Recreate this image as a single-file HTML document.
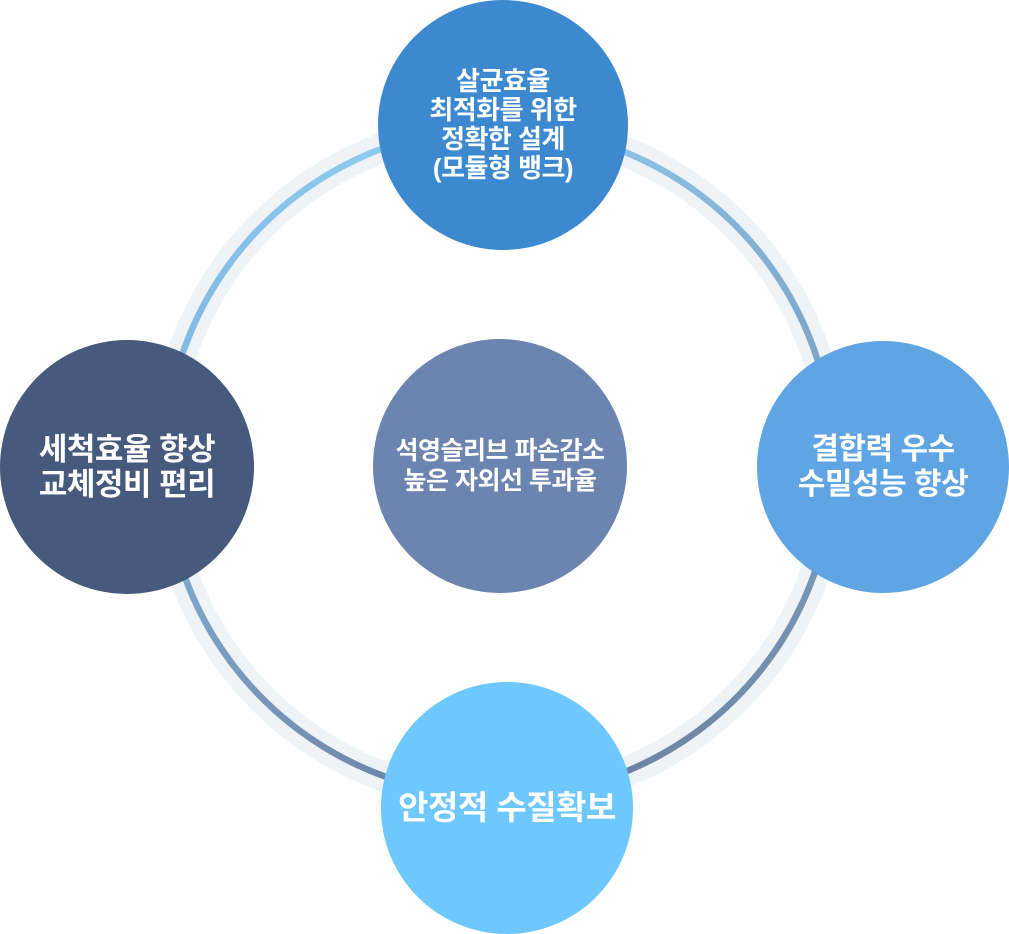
<!DOCTYPE html>
<html><head><meta charset="utf-8"><style>
html,body{margin:0;padding:0;background:#fff;}
body{width:1009px;height:934px;position:relative;overflow:hidden;font-family:"Liberation Sans","Noto Sans CJK KR","NanumGothic",sans-serif;}
.band{position:absolute;left:149px;top:112px;width:700px;height:700px;border-radius:50%;border:30px solid #eff3f6;box-sizing:border-box;}
.line{position:absolute;left:161px;top:124px;width:676px;height:676px;border-radius:50%;
background:conic-gradient(#8fcdf2 0deg,#7a9cbc 90deg,#6a7c9c 180deg,#82b3db 270deg,#8fd2f7 360deg);
-webkit-mask:radial-gradient(circle,transparent 331px,#000 331.5px,#000 337.5px,transparent 338px);
mask:radial-gradient(circle,transparent 331px,#000 331.5px,#000 337.5px,transparent 338px);}
.c{position:absolute;border-radius:50%;display:flex;align-items:center;justify-content:center;text-align:center;color:#fff;font-weight:bold;letter-spacing:-0.5px;}
</style></head><body>
<div class="band"></div>
<div class="line"></div>
<div class="c" style="left:378px;top:0px;width:250px;height:250px;background:#3d89cf;font-size:26px;line-height:29px;">살균효율<br>최적화를 위한<br>정확한 설계<br>(모듈형 뱅크)</div>
<div class="c" style="left:0px;top:340px;width:254px;height:254px;background:#465a7d;font-size:31px;line-height:35px;">세척효율 향상<br>교체정비 편리</div>
<div class="c" style="left:373px;top:339px;width:254px;height:254px;background:#6b84b0;font-size:25px;line-height:30px;">석영슬리브 파손감소<br>높은 자외선 투과율</div>
<div class="c" style="left:757px;top:341px;width:252px;height:252px;background:#5fa5e3;font-size:30px;line-height:35px;">결합력 우수<br>수밀성능 향상</div>
<div class="c" style="left:381px;top:682px;width:252px;height:252px;background:#6ec8fd;font-size:33px;line-height:38px;">안정적 수질확보</div>
</body></html>
